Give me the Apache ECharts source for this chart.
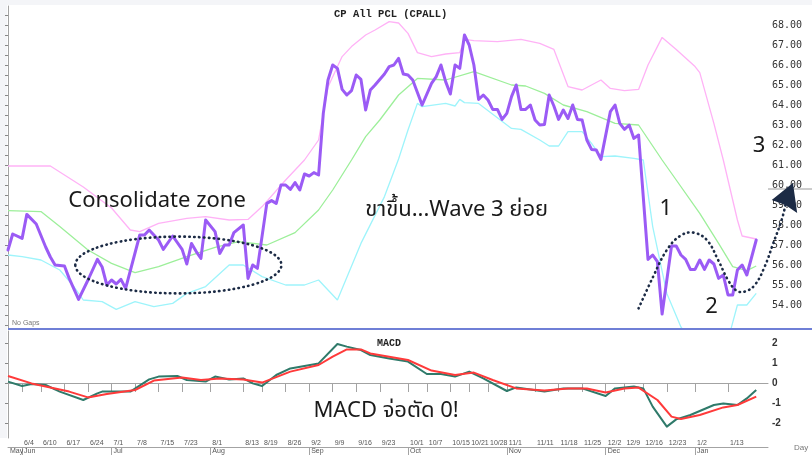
<!DOCTYPE html>
<html>
<head>
<meta charset="utf-8">
<script src="https://cdn.jsdelivr.net/npm/echarts@6/dist/echarts.min.js"></script>
<style>
  html, body { margin: 0; padding: 0; background: #fff; }
  #chart { width: 812px; height: 455px; }
</style>
</head>
<body>
<div id="chart"></div>
<script>
// CPALL daily chart, 29 May 2024 - 21 Jan 2025. x = trading-day index (0 = 29 May).
// Price pane: close + Bollinger bands, MACD pane below.

const dayTicks  = [3, 7, 12, 17, 22, 27, 32, 37, 43, 50, 54, 59, 64, 69, 74, 79, 85, 89, 94, 98, 102, 106, 112, 117, 122, 127, 131, 135, 140, 146, 153];
const dayLabels = ['6/4', '6/10', '6/17', '6/24', '7/1', '7/8', '7/15', '7/23', '8/1', '8/13', '8/19', '8/26', '9/2', '9/9', '9/16', '9/23',
  '10/1', '10/7', '10/15', '10/21', '10/28', '11/1', '11/11', '11/18', '11/25', '12/2', '12/9', '12/16', '12/23', '1/2', '1/13'];
const monthTicks  = [0, 3, 22, 43, 64, 85, 106, 127, 146];
const monthLabels = ['May', 'Jun', 'Jul', 'Aug', 'Sep', 'Oct', 'Nov', 'Dec', 'Jan'];
const priceTicks = [54, 55, 56, 57, 58, 59, 60, 61, 62, 63, 64, 65, 66, 67, 68];
const macdTicks = [-2, -1, 0, 1, 2];

const price = [
  [0, 56.75], [1, 57.55], [3, 57.33], [4, 58.53], [6, 58.05], [8, 56.9], [9, 56.4], [10, 56.0], [12, 55.95], [13, 55.33],
  [15, 54.28], [17, 55.25], [19, 56.28], [20, 55.9], [21, 55.0], [22, 55.25], [23, 55.05], [24, 55.28], [25, 54.83], [28, 57.5],
  [29, 57.5], [30, 57.75], [32, 57.25], [33, 56.78], [35, 57.45], [37, 56.78], [38, 56.05], [39, 57.08], [40, 56.67], [41, 56.33],
  [42, 58.25], [44, 57.67], [45, 56.58], [46, 57.0], [47, 57.0], [48, 57.62], [50, 58.0], [51, 55.33], [52, 56.0], [53, 55.83],
  [55, 59.08], [56, 59.22], [57, 59.08], [58, 60.0], [59, 60.0], [60, 59.78], [61, 60.12], [62, 59.75], [63, 60.55], [64, 60.45],
  [65, 60.62], [66, 60.5], [67, 63.58], [68, 65.25], [69, 66.0], [70, 65.83], [71, 64.78], [72, 64.5], [73, 64.72], [74, 65.5],
  [75, 65.28], [76, 63.75], [77, 64.75], [78, 65.0], [80, 65.55], [81, 65.92], [82, 66.0], [83, 66.33], [84, 65.55], [85, 65.5],
  [86, 65.25], [88, 64.0], [90, 65.08], [91, 65.42], [92, 66.0], [93, 65.17], [94, 64.55], [95, 66.0], [96, 65.83], [97, 67.5],
  [98, 67.0], [99, 66.0], [100, 64.28], [101, 64.5], [102, 64.25], [103, 63.78], [104, 63.78], [105, 63.28], [106, 63.58], [107, 64.42],
  [108, 65.0], [109, 63.78], [110, 63.78], [111, 64.0], [112, 63.25], [113, 63.0], [114, 63.03], [115, 64.5], [116, 63.95], [117, 63.28],
  [118, 63.75], [119, 63.33], [120, 64.0], [121, 63.28], [122, 63.25], [123, 62.25], [124, 61.78], [125, 61.75], [126, 61.28], [128, 63.67],
  [129, 64.0], [130, 63.08], [131, 62.78], [132, 63.0], [133, 62.33], [134, 62.5], [136, 56.28], [137, 56.5], [138, 56.17], [139, 53.55],
  [141, 56.95], [142, 56.95], [143, 56.5], [144, 56.28], [145, 55.78], [146, 55.78], [147, 56.25], [148, 55.78], [149, 56.25], [150, 56.05],
  [151, 55.33], [152, 55.5], [153, 54.5], [154, 54.5], [155, 55.75], [156, 56.0], [157, 55.5], [159, 57.25]
];
const upperBand = [
  [0, 60.95], [9, 60.95], [16, 59.9], [22, 58.85], [26, 57.75], [28, 57.67], [32, 58.08], [38, 58.33], [42, 58.42], [47, 58.25],
  [51, 58.28], [54, 58.92], [59, 60.25], [63, 61.25], [66, 62.25], [68, 64.9], [71, 66.42], [73, 66.92], [76, 67.5], [78, 67.75],
  [81, 68.17], [83, 68.1], [85, 67.58], [87, 66.62], [90, 66.42], [93, 66.55], [96, 66.62], [97, 67.28], [99, 67.22], [104, 67.17],
  [109, 67.28], [113, 67.08], [116, 66.78], [119, 64.92], [122, 64.75], [126, 65.25], [128, 64.83], [131, 64.72], [134, 64.78], [136, 66.0],
  [139, 67.38], [142, 66.78], [146, 65.92], [147, 65.62], [150, 63.08], [152, 61.25], [155, 58.25], [156, 57.45], [159, 57.3]
];
const middleBand = [
  [0, 58.72], [7, 58.67], [11, 57.92], [17, 56.75], [22, 56.08], [27, 55.62], [32, 55.92], [38, 56.42], [44, 56.88], [49, 57.17],
  [55, 57.0], [61, 57.62], [66, 58.75], [69, 59.75], [73, 61.25], [76, 62.42], [79, 63.25], [83, 64.5], [87, 65.33], [93, 65.25],
  [99, 65.67], [107, 65.0], [110, 64.95], [114, 64.58], [118, 64.0], [123, 63.67], [129, 63.08], [134, 63.0], [139, 61.25], [142, 60.25],
  [147, 58.58], [151, 57.08], [154, 55.92], [157, 55.72], [159, 55.95]
];
const lowerBand = [
  [0, 56.5], [3, 56.42], [7, 56.25], [11, 55.75], [14, 54.92], [16, 54.25], [20, 54.17], [23, 53.78], [27, 54.17], [31, 53.92],
  [35, 54.08], [38, 54.58], [42, 54.92], [47, 56.0], [50, 56.0], [54, 55.42], [59, 55.0], [63, 55.0], [66, 55.25], [70, 54.25],
  [75, 57.08], [80, 59.42], [83, 61.3], [85, 62.75], [87, 64.08], [88, 63.92], [93, 64.08], [95, 63.95], [96, 64.28], [97, 64.12],
  [100, 64.08], [107, 62.83], [109, 62.78], [113, 62.25], [115, 61.95], [117, 61.95], [119, 62.67], [122, 62.67], [124, 62.08], [126, 61.42],
  [129, 61.45], [133, 61.33], [135, 61.25], [137, 57.92], [140, 54.58], [143, 52.9], [145, 52.25], [149, 51.2], [153, 52.25], [155, 54.0],
  [157, 54.0], [159, 54.58]
];
const macdLine = [
  [0, 0.07], [3, -0.15], [5, -0.05], [8, -0.1], [11, -0.43], [16, -0.85], [19, -0.52], [20, -0.43], [26, -0.43], [30, 0.18],
  [32, 0.32], [36, 0.35], [38, 0.15], [42, 0.07], [44, 0.32], [47, 0.18], [50, 0.23], [52, -0.02], [54, -0.15], [57, 0.4],
  [60, 0.73], [63, 0.85], [66, 0.98], [70, 1.95], [72, 1.82], [75, 1.65], [77, 1.4], [81, 1.23], [83, 1.15], [85, 1.07],
  [89, 0.45], [92, 0.45], [95, 0.32], [98, 0.57], [101, 0.23], [106, -0.4], [108, -0.22], [114, -0.43], [118, -0.27], [122, -0.27],
  [127, -0.65], [129, -0.27], [133, -0.18], [135, -0.27], [137, -1.18], [140, -2.18], [142, -1.82], [145, -1.6], [150, -1.1], [152, -1.02],
  [155, -1.1], [157, -0.77], [159, -0.35]
];
const signalLine = [
  [0, 0.35], [5, -0.02], [8, -0.18], [13, -0.43], [17, -0.72], [21, -0.55], [27, -0.35], [31, 0.12], [37, 0.27], [41, 0.15],
  [45, 0.23], [50, 0.18], [54, 0.02], [60, 0.57], [66, 0.9], [69, 1.32], [72, 1.68], [75, 1.68], [77, 1.48], [85, 1.15],
  [90, 0.62], [95, 0.4], [99, 0.52], [103, 0.15], [108, -0.27], [114, -0.38], [119, -0.27], [123, -0.27], [127, -0.48], [131, -0.27],
  [134, -0.23], [138, -0.85], [141, -1.68], [143, -1.8], [147, -1.6], [152, -1.22], [155, -1.1], [159, -0.68]
];

// hand-drawn annotations, in data units of the price pane
const waveCurve = [
  [134.0, 53.83], [137.1, 55.42], [140.0, 56.75], [142.8, 57.45], [145.6, 57.62], [148.5, 57.25], [150.9, 56.25], [153.0, 55.25],
  [154.8, 54.72], [156.6, 54.67], [158.7, 55.0], [160.8, 55.92], [162.6, 57.08], [164.4, 58.25], [165.2, 59.0]
];
const arrowHead = [[166.8, 60.1], [162.3, 59.25], [165.2, 59.0], [167.7, 58.6]];
const zoneEllipse = { center: [36.2, 56.0], rx: 21.9, ry: 1.42 };
const priceNotes = [
  { text: 'Consolidate zone', at: [12.8, 59.22], align: 'left' },
  { text: 'ขาขึ้น...Wave 3 ย่อย', at: [75.9, 58.75], align: 'left' },
  { text: '1', at: [139.8, 58.8], align: 'center' },
  { text: '2', at: [149.5, 53.92], align: 'center' },
  { text: '3', at: [159.6, 61.95], align: 'center' }
];
const macdNote = { text: 'MACD จ่อตัด 0!', at: [64.9, -1.4] };
const lastClose = 57.25;
const cursorLevel = 59.8;

const X_MAX = 161.5;
const INK = '#1c2b45';
const noteFont = '"Noto Sans", "Noto Sans Thai", "Loma", "Garuda", "DejaVu Sans", sans-serif';
const mono = '"Liberation Mono", "DejaVu Sans Mono", monospace';

const chart = echarts.init(document.getElementById('chart'), null, { renderer: 'canvas' });

const dayMap = {}; dayTicks.forEach((t, k) => { dayMap[t] = dayLabels[k]; });
const monthMap = {}; monthTicks.forEach((t, k) => { monthMap[t] = monthLabels[k]; });
const halfSteps = [];
for (let v = 53; v <= 68.5; v += 0.5) halfSteps.push(v);

const axisGrey = '#a3a3a3';

chart.setOption({
  animation: false,
  backgroundColor: '#ffffff',
  title: [
    { text: 'CP All PCL (CPALL)', left: 329, top: 4,
      textStyle: { fontFamily: mono, fontWeight: 'bold', fontSize: 10.5, color: '#222' } },
    { text: 'MACD', left: 372, top: 333,
      textStyle: { fontFamily: mono, fontWeight: 'bold', fontSize: 10, color: '#222' } }
  ],
  grid: [
    { left: 8, right: 44, top: 6, height: 323 },
    { left: 8, right: 44, top: 331, height: 107 }
  ],
  xAxis: [
    { gridIndex: 0, type: 'value', min: 0, max: X_MAX, show: false },
    { gridIndex: 1, type: 'value', min: 0, max: X_MAX, position: 'bottom',
      axisLine: { show: true, lineStyle: { color: axisGrey, width: 1 } },
      axisTick: { show: true, customValues: dayTicks, length: 9, lineStyle: { color: axisGrey } },
      axisLabel: { show: true, customValues: dayTicks, formatter: v => dayMap[v] || '',
        align: 'left', margin: 2, padding: [0, 0, 0, 2], fontSize: 7, color: '#555', fontFamily: 'Liberation Sans' },
      splitLine: { show: false } },
    { gridIndex: 1, type: 'value', min: 0, max: X_MAX, position: 'bottom', offset: 9,
      axisLine: { show: true, lineStyle: { color: axisGrey, width: 1 } },
      axisTick: { show: true, customValues: monthTicks.slice(1), length: 8, lineStyle: { color: axisGrey } },
      axisLabel: { show: true, customValues: monthTicks, formatter: v => monthMap[v] || '',
        align: 'left', margin: 1, padding: [0, 0, 0, 2], fontSize: 7, color: '#555', fontFamily: 'Liberation Sans' },
      splitLine: { show: false } }
  ],
  yAxis: [
    { gridIndex: 0, type: 'value', position: 'right', min: 52.8, max: 68.95,
      axisLine: { show: true, lineStyle: { color: axisGrey } },
      axisTick: { show: true, inside: true, customValues: halfSteps, length: 3, lineStyle: { color: '#888' } },
      axisLabel: { customValues: priceTicks, formatter: v => v.toFixed(2), margin: 4,
        fontFamily: '"DejaVu Sans Mono", monospace', fontSize: 10, color: '#333' },
      splitLine: { show: false } },
    { gridIndex: 1, type: 'value', position: 'right', min: -2.75, max: 2.6,
      axisLine: { show: true, lineStyle: { color: axisGrey } },
      axisTick: { show: true, inside: true, customValues: macdTicks, length: 3, lineStyle: { color: '#888' } },
      axisLabel: { customValues: macdTicks, margin: 4, fontFamily: 'Liberation Sans', fontWeight: 'bold',
        fontSize: 10, color: '#333' },
      splitLine: { show: false } }
  ],
  series: [
    { name: 'upper', type: 'line', xAxisIndex: 0, yAxisIndex: 0, data: upperBand, showSymbol: false, silent: true,
      lineStyle: { color: '#ffb2f6', width: 1.3 } },
    { name: 'middle', type: 'line', xAxisIndex: 0, yAxisIndex: 0, data: middleBand, showSymbol: false, silent: true,
      lineStyle: { color: '#9def9a', width: 1.3 } },
    { name: 'lower', type: 'line', xAxisIndex: 0, yAxisIndex: 0, data: lowerBand, showSymbol: false, silent: true,
      lineStyle: { color: '#9ef4fb', width: 1.3 } },
    { name: 'close', type: 'line', xAxisIndex: 0, yAxisIndex: 0, data: price, showSymbol: false, silent: true,
      lineStyle: { color: '#9b5bf5', width: 3, join: 'round', cap: 'round' },
      markLine: { silent: true, symbol: 'none', animation: false,
        lineStyle: { width: 0, opacity: 0 },
        label: { show: true, position: 'end', distance: 2, formatter: lastClose.toFixed(2),
          backgroundColor: '#111', color: '#fff', padding: [1, 2, 0, 2],
          fontFamily: mono, fontWeight: 'bold', fontSize: 10.5 },
        data: [{ yAxis: lastClose }] } },
    { name: 'MACD', type: 'line', xAxisIndex: 1, yAxisIndex: 1, data: macdLine, showSymbol: false, silent: true,
      lineStyle: { color: '#2f7a6a', width: 2, join: 'round' } },
    { name: 'signal', type: 'line', xAxisIndex: 1, yAxisIndex: 1, data: signalLine, showSymbol: false, silent: true,
      lineStyle: { color: '#ff3a3a', width: 2, join: 'round' } }
  ]
});

// annotations placed through the chart's own coordinate system
const toPx = (pt, grid) => chart.convertToPixel({ gridIndex: grid }, pt);
const c = toPx(zoneEllipse.center, 0);
const cr = toPx([zoneEllipse.center[0] + zoneEllipse.rx, zoneEllipse.center[1] + zoneEllipse.ry], 0);
const lvl = toPx([X_MAX, cursorLevel], 0);
const sep = toPx([0, 52.8], 0);
const dotted = { stroke: INK, lineWidth: 2.6, lineDash: [0.5, 4.4], lineCap: 'round', fill: null };

const graphics = [
  { type: 'rect', shape: { x: 0, y: 0, width: 812, height: 5 }, style: { fill: '#f4f5f8' }, silent: true, z: 0 },
  { type: 'rect', shape: { x: 0, y: 0, width: 7, height: 438 }, style: { fill: '#f4f5f8' }, silent: true, z: 0 },
  { type: 'line', shape: { x1: 8, y1: sep[1], x2: 812, y2: sep[1] }, style: { stroke: '#6f7fd6', lineWidth: 2 }, silent: true, z: 10 },
  { type: 'line', shape: { x1: lvl[0], y1: lvl[1], x2: 812, y2: lvl[1] }, style: { stroke: '#9a9a9a', lineWidth: 1 }, silent: true, z: 10 },
  { type: 'ellipse', shape: { cx: c[0], cy: c[1], rx: cr[0] - c[0], ry: c[1] - cr[1] }, style: dotted, silent: true, z: 20 },
  { type: 'polyline', shape: { points: waveCurve.map(p => toPx(p, 0)), smooth: 0.4 }, style: dotted, silent: true, z: 20 },
  { type: 'polygon', shape: { points: arrowHead.map(p => toPx(p, 0)) }, style: { fill: INK }, silent: true, z: 21 },
  { type: 'text', left: 12, top: 320, style: { text: 'No Gaps', fill: '#777', font: '7px "Liberation Sans"' }, silent: true, z: 20 },
  { type: 'text', left: 794, top: 444, style: { text: 'Day', fill: '#777', font: '8px "Liberation Sans"' }, silent: true, z: 20 }
];
priceNotes.forEach(n => {
  const p = toPx(n.at, 0);
  graphics.push({ type: 'text', x: p[0], y: p[1], silent: true, z: 20,
    style: { text: n.text, fill: '#1a1a1a', font: '22px ' + noteFont, align: n.align, verticalAlign: 'middle' } });
});
const m = toPx(macdNote.at, 1);
graphics.push({ type: 'text', x: m[0], y: m[1], silent: true, z: 20,
  style: { text: macdNote.text, fill: '#1a1a1a', font: '22px ' + noteFont, align: 'left', verticalAlign: 'middle' } });

chart.setOption({ graphic: graphics });
</script>
</body>
</html>
